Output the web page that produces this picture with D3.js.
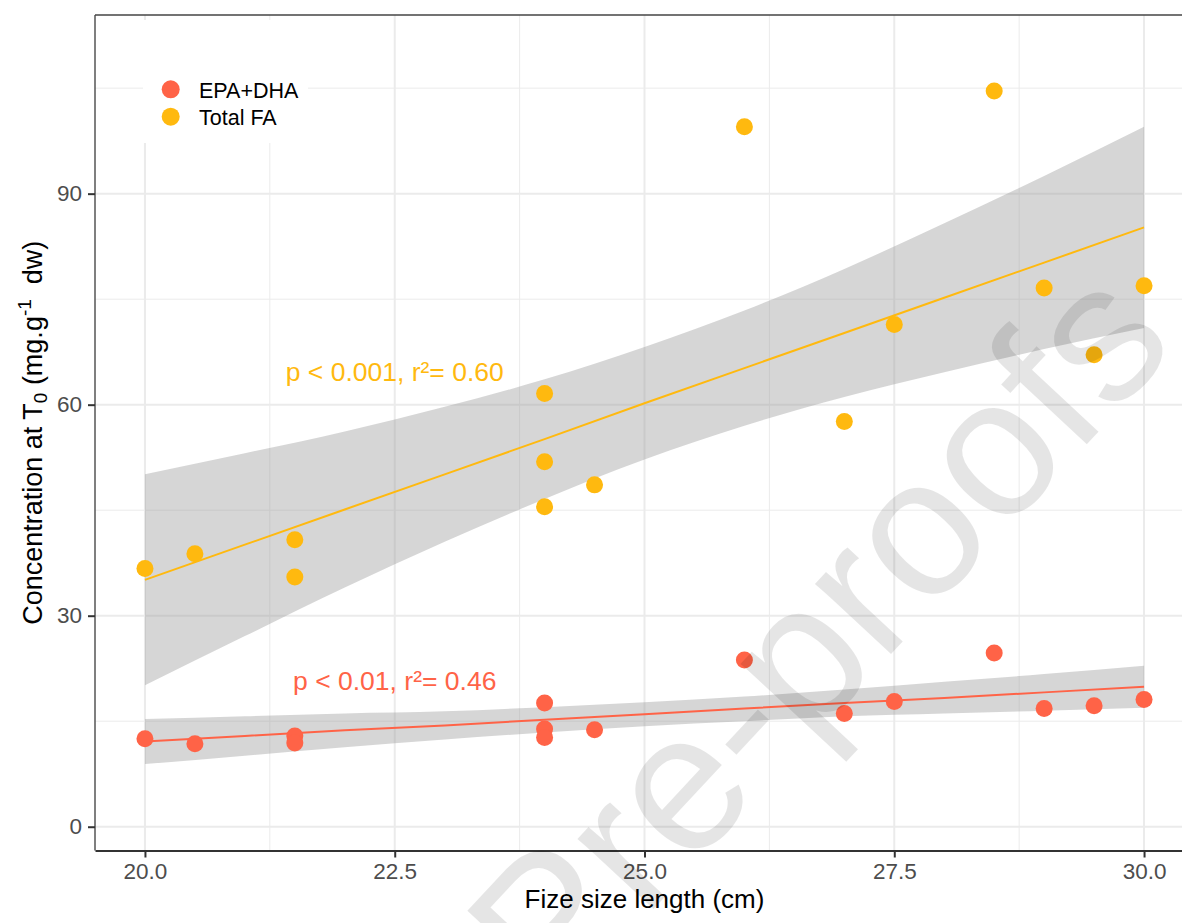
<!DOCTYPE html>
<html>
<head>
<meta charset="utf-8">
<script src="https://cdn.jsdelivr.net/npm/d3@7"></script>
<style>
  html, body { margin: 0; padding: 0; background: #fff; }
  svg { display: block; font-family: "Liberation Sans", Arial, sans-serif; }
</style>
</head>
<body>
<svg id="chart" width="1182" height="923"></svg>
<script>
// ---------------- data ----------------
const seriesNames = ["EPA+DHA", "Total FA"];
const seriesColors = ["#FF6347", "#FFB90F"];

const fishLength = [20, 20.5, 21.5, 21.5, 24, 24, 24, 24.5, 26, 27, 27.5, 28.5, 29, 29.5, 30];
const epaDha     = [12.5, 11.8, 12.9, 11.9, 17.6, 13.9, 12.7, 13.8, 23.7, 16.1, 17.8, 24.7, 16.8, 17.2, 18.1];
const totalFA    = [36.7, 38.8, 40.8, 35.5, 61.6, 51.9, 45.5, 48.6, 99.5, 57.6, 71.4, 104.6, 76.6, 67.1, 76.9];

// fitted lines and confidence bands, read at whole-cm positions
const bandX      = [20, 21, 22, 23, 24, 25, 26, 27, 28, 29, 30];
const epaFit     = [12.1, 12.9, 13.7, 14.4, 15.2, 16.0, 16.8, 17.6, 18.3, 19.1, 19.9];
const epaLower   = [8.9, 10.1, 11.3, 12.4, 13.4, 14.3, 15.0, 15.7, 16.1, 16.5, 16.9];
const epaUpper   = [15.3, 15.7, 16.1, 16.4, 17.0, 17.7, 18.5, 19.5, 20.6, 21.7, 22.9];
const faFit      = [35.1, 40.1, 45.1, 50.1, 55.1, 60.2, 65.2, 70.2, 75.2, 80.2, 85.2];
const faLower    = [20.1, 27.1, 34.0, 40.5, 46.6, 52.2, 57.0, 61.1, 64.6, 67.9, 70.9];
const faUpper    = [50.1, 53.1, 56.2, 59.7, 63.6, 68.2, 73.4, 79.3, 85.8, 92.5, 99.5];

const xTicks = [20, 22.5, 25, 27.5, 30];
const xTickLabels = ["20.0", "22.5", "25.0", "27.5", "30.0"];
const xMinor = [21.25, 23.75, 26.25, 28.75];
const yTicks = [0, 30, 60, 90];
const yMinor = [15, 45, 75, 105];

const annotLabels = ["p < 0.01, r²= 0.46", "p < 0.001, r²= 0.60"];
const annotX = [22.5, 22.5];
const annotY = [19.45, 63.4];

// ---------------- layout ----------------
const svg = d3.select("#chart");
const pL = 95, pR = 1194, pT = 15, pB = 850.5;

const x = d3.scaleLinear().domain([19.5, 30.5]).range([pL, pR]);
const y = d3.scaleLinear().domain([-3.38, 115.4]).range([pB, pT]);

svg.append("defs").append("clipPath").attr("id", "panel")
  .append("rect").attr("x", pL).attr("y", pT)
  .attr("width", pR - pL).attr("height", pB - pT);

const panel = svg.append("g").attr("clip-path", "url(#panel)");

// grid
panel.selectAll(".gxm").data(xMinor).join("line")
  .attr("x1", d => x(d)).attr("x2", d => x(d)).attr("y1", pT).attr("y2", pB)
  .attr("stroke", "#ebebeb").attr("stroke-width", 1);
panel.selectAll(".gym").data(yMinor).join("line")
  .attr("y1", d => y(d)).attr("y2", d => y(d)).attr("x1", pL).attr("x2", pR)
  .attr("stroke", "#ebebeb").attr("stroke-width", 1);
panel.selectAll(".gx").data(xTicks).join("line")
  .attr("x1", d => x(d)).attr("x2", d => x(d)).attr("y1", pT).attr("y2", pB)
  .attr("stroke", "#ebebeb").attr("stroke-width", 2);
panel.selectAll(".gy").data(yTicks).join("line")
  .attr("y1", d => y(d)).attr("y2", d => y(d)).attr("x1", pL).attr("x2", pR)
  .attr("stroke", "#ebebeb").attr("stroke-width", 2);

// ribbons
const bands = [
  { lo: epaLower, hi: epaUpper, fit: epaFit, color: seriesColors[0] },
  { lo: faLower, hi: faUpper, fit: faFit, color: seriesColors[1] }
];
const area = d3.area().curve(d3.curveMonotoneX)
  .x(d => x(d.x)).y0(d => y(d.lo)).y1(d => y(d.hi));
const line = d3.line().curve(d3.curveLinear).x(d => x(d.x)).y(d => y(d.v));

bands.forEach(b => {
  const pts = bandX.map((xv, i) => ({ x: xv, lo: b.lo[i], hi: b.hi[i] }));
  panel.append("path").datum(pts).attr("d", area)
    .attr("fill", "#999999").attr("fill-opacity", 0.4);
});
bands.forEach(b => {
  const pts = bandX.map((xv, i) => ({ x: xv, v: b.fit[i] }));
  panel.append("path").datum(pts).attr("d", line)
    .attr("fill", "none").attr("stroke", b.color).attr("stroke-width", 2);
});

// points
[epaDha, totalFA].forEach((vals, si) => {
  panel.selectAll(".p" + si).data(vals).join("circle")
    .attr("cx", (d, i) => x(fishLength[i])).attr("cy", d => y(d))
    .attr("r", 8.5).attr("fill", seriesColors[si]);
});

// annotations
annotLabels.forEach((t, i) => {
  svg.append("text").attr("x", x(annotX[i])).attr("y", y(annotY[i]))
    .attr("text-anchor", "middle").attr("font-size", 26.5)
    .attr("fill", seriesColors[i]).text(t);
});

// legend
const leg = svg.append("g");
leg.append("rect").attr("x", 143).attr("y", 20).attr("width", 165).attr("height", 123).attr("fill", "#fff");
seriesNames.forEach((n, i) => {
  leg.append("circle").attr("cx", 170.7).attr("cy", 89.3 + i * 27.4).attr("r", 9).attr("fill", seriesColors[i]);
  leg.append("text").attr("x", 199).attr("y", 97.5 + i * 27.4).attr("font-size", 21.5).attr("fill", "#000").text(n);
});

// panel border (left & top) and bottom axis
svg.append("line").attr("x1", pL).attr("x2", pL).attr("y1", pT).attr("y2", pB)
  .attr("stroke", "#555").attr("stroke-width", 1.5);
svg.append("line").attr("x1", pL).attr("x2", 1182).attr("y1", pT).attr("y2", pT)
  .attr("stroke", "#444").attr("stroke-width", 1.5);

const xAxis = d3.axisBottom(x).tickValues(xTicks).tickFormat((d, i) => xTickLabels[i])
  .tickSize(7).tickSizeOuter(0).tickPadding(6);
const gx = svg.append("g").attr("transform", `translate(0,${pB})`).call(xAxis);
gx.select(".domain").attr("stroke", "#333").attr("stroke-width", 2.2);
gx.selectAll(".tick line").attr("stroke", "#333").attr("stroke-width", 2);
gx.selectAll(".tick text").attr("font-size", 22.5).attr("fill", "#4d4d4d")
  .attr("font-family", "Liberation Sans, Arial, sans-serif");

const yAxis = d3.axisLeft(y).tickValues(yTicks).tickFormat(d3.format("d")).tickSize(7).tickPadding(6);
const gy = svg.append("g").attr("transform", `translate(${pL},0)`).call(yAxis);
gy.select(".domain").remove();
gy.selectAll(".tick line").attr("stroke", "#333").attr("stroke-width", 2);
gy.selectAll(".tick text").attr("font-size", 22.5).attr("fill", "#4d4d4d")
  .attr("font-family", "Liberation Sans, Arial, sans-serif");

// axis titles
svg.append("text").attr("x", (pL + pR) / 2).attr("y", 908).attr("text-anchor", "middle")
  .attr("font-size", 26).attr("fill", "#000").text("Fize size length (cm)");

const yt = svg.append("text").attr("transform", `translate(42,${(pT + pB) / 2}) rotate(-90)`)
  .attr("text-anchor", "middle").attr("font-size", 27).attr("fill", "#000");
yt.append("tspan").text("Concentration at T");
yt.append("tspan").attr("font-size", 19).attr("dy", 5).text("0");
yt.append("tspan").attr("dy", -5).text(" (mg.g");
yt.append("tspan").attr("font-size", 19).attr("dy", -11).text("-1");
yt.append("tspan").attr("dy", 11).text("\u00a0 dw)");

// watermark
svg.append("text").attr("transform", "translate(867,680) rotate(-47)")
  .attr("text-anchor", "middle").attr("font-size", 196)
  .attr("fill", "#000").attr("fill-opacity", 0.1).text("Pre-proofs");
</script>
</body>
</html>
